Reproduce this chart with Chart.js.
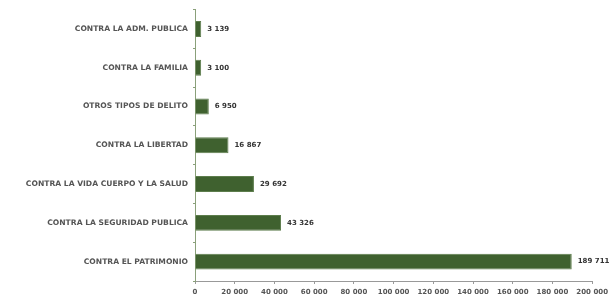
<!DOCTYPE html>
<html>
<head>
<meta charset="utf-8">
<script src="https://cdn.jsdelivr.net/npm/chart.js@4.4.1/dist/chart.umd.min.js"></script>
<style>
  html, body { margin: 0; padding: 0; background: #fff; }
  #wrap { width: 612px; height: 300px; }
</style>
</head>
<body>
<div id="wrap"><canvas id="delitosChart"></canvas></div>
<script>
// Categorías de delito y número de casos
let categorias = [
    'CONTRA LA ADM. PUBLICA',
    'CONTRA LA FAMILIA',
    'OTROS TIPOS DE DELITO',
    'CONTRA LA LIBERTAD',
    'CONTRA LA VIDA CUERPO Y LA SALUD',
    'CONTRA LA SEGURIDAD PUBLICA',
    'CONTRA EL PATRIMONIO'
];
let casos = [3139, 3100, 6950, 16867, 29692, 43326, 189711];
let ejeMin = 0;
let ejeMax = 200000;
let ejePaso = 20000;

let fuente = '"DejaVu Sans", Verdana, sans-serif';

function formatoMiles(n) {
    return n.toString().replace(/\B(?=(\d{3})+(?!\d))/g, ' ');
}

// etiquetas de valor al final de cada barra
let etiquetasBarras = {
    id: 'etiquetasBarras',
    afterDatasetsDraw(chart) {
        let ctx = chart.ctx;
        let meta = chart.getDatasetMeta(0);
        ctx.save();
        ctx.font = 'bold 7px ' + fuente;
        ctx.fillStyle = '#333';
        ctx.textBaseline = 'middle';
        meta.data.forEach((bar, i) => {
            ctx.fillText(formatoMiles(casos[i]), bar.x + 6, bar.y);
        });
        ctx.restore();
    }
};

let ctx = document.getElementById('delitosChart').getContext('2d');
let delitosChart = new Chart(ctx, {
    type: 'bar',
    data: {
        labels: categorias,
        datasets: [{
            data: casos,
            backgroundColor: '#3f612f',
            borderColor: '#5d7d4c',
            borderWidth: 1,
            barPercentage: 0.41,
            categoryPercentage: 1
        }]
    },
    options: {
        indexAxis: 'y',
        responsive: true,
        maintainAspectRatio: false,
        animation: false,
        layout: { padding: { top: 3, right: 19, left: 0, bottom: 0 } },
        plugins: {
            legend: { display: false },
            tooltip: { enabled: false }
        },
        scales: {
            x: {
                min: ejeMin,
                max: ejeMax,
                afterFit(scale) { scale.height = 19; },
                grid: { drawOnChartArea: false, drawTicks: true, tickLength: 3, color: '#999' },
                border: { display: true, color: '#999' },
                ticks: {
                    stepSize: ejePaso,
                    maxRotation: 0,
                    autoSkip: false,
                    padding: 4,
                    color: '#555',
                    font: { family: fuente, size: 7, weight: 'bold' },
                    callback: (v) => formatoMiles(v)
                }
            },
            y: {
                afterFit(scale) { scale.width = 195; },
                grid: { drawOnChartArea: false, drawTicks: true, tickLength: 2, color: '#8aa07a' },
                border: { display: true, color: '#8aa07a' },
                ticks: {
                    padding: 5,
                    color: '#555',
                    font: { family: fuente, size: 7.6, weight: 'bold' }
                }
            }
        }
    },
    plugins: [etiquetasBarras]
});
</script>
</body>
</html>
